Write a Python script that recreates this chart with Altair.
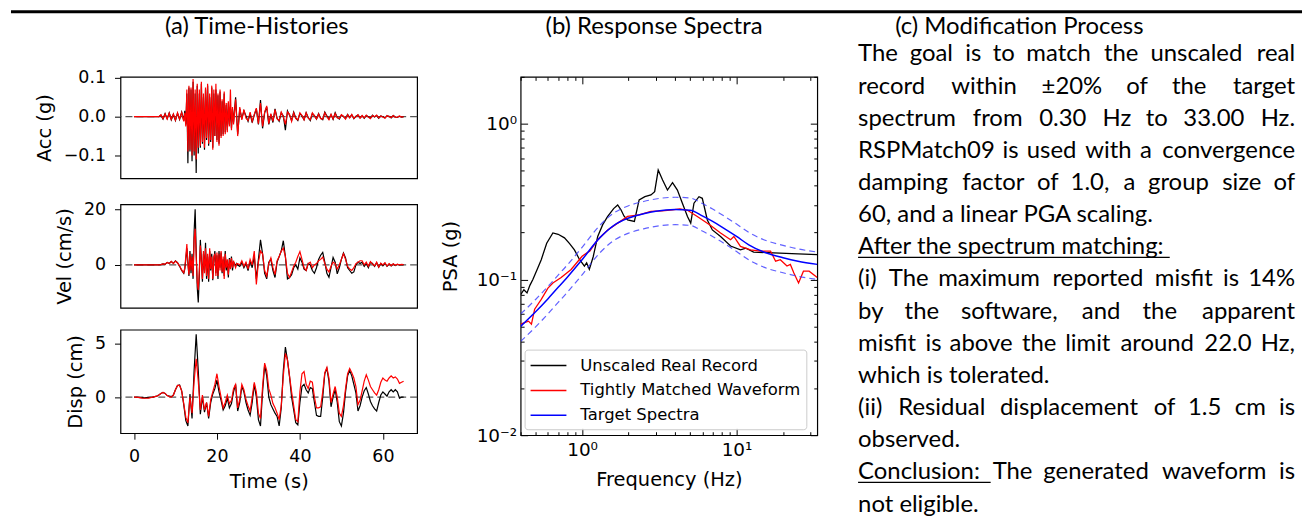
import altair as alt
import numpy as np
import pandas as pd

# ---------------- (a) Time-histories : sampling grids (s) ----------------
T_ACC = np.concatenate([np.arange(0, 12.001, 0.5), np.arange(12.25, 24.001, 0.25), np.arange(24.5, 65.001, 0.5)])
T_VEL = np.concatenate([np.arange(0, 12.001, 0.5), np.arange(12.25, 25.001, 0.25), np.arange(25.5, 65.001, 0.5)])
T_DISP = np.arange(0, 65.001, 0.5)

ACC_REAL = (
    [0] * 13 + [0.004, -0.006, 0.008, -0.005, 0.01, -0.008, 0.006, -0.01, 0.009, -0.007, 0.012, -0.01]
    + [0.015, -0.02, 0.06, -0.12, 0.075, -0.09, 0.07, -0.115, 0.09, -0.1, 0.06, -0.145,
       0.08, -0.095, 0.06, -0.08, 0.085, -0.07, 0.05, -0.085, 0.07, -0.06, 0.08, -0.075,
       0.05, -0.065, 0.075, -0.08, 0.06, -0.05, 0.07, -0.06, 0.055, -0.07, 0.065, -0.05,
       0.04, -0.045, 0.06, -0.04, 0.03, -0.035, 0.035, -0.02, 0.025, -0.03, 0.02, -0.015]
    + [0.05, -0.045, 0.02, -0.005, 0.015, 0.002, -0.012, 0.008, -0.015, 0.004, 0.02, -0.02,
       0.043, -0.03, 0.01, 0.025, -0.02, 0.005, -0.015, 0.02, -0.004, -0.012,
       0.01, 0.002, -0.035, 0.015, 0.004, -0.01, 0.012, -0.003, -0.01, 0.008,
       0.002, -0.008, 0.01, -0.002, -0.01, 0.008, 0.003, -0.006, 0.008, -0.004,
       -0.008, 0.012, 0.002, -0.006, 0.005, -0.007, 0.01, -0.002, -0.006, 0.004,
       0.0, -0.005, 0.006, -0.002, 0.005, -0.005, 0.001, 0.004, -0.003, 0.002,
       -0.004, 0.003, 0.0, -0.004, 0.004, -0.001, 0.003, -0.004, 0.002, 0.0,
       -0.003, 0.002, 0.001, -0.003, 0.003, -0.001, -0.002, 0.001, -0.001, 0.0]
)
ACC_MATCHED = (
    [0] * 13 + [0.005, -0.005, 0.007, -0.006, 0.009, -0.007, 0.007, -0.009, 0.01, -0.006, 0.011, -0.012]
    + [0.01, -0.025, 0.07, -0.09, 0.08, -0.085, 0.075, -0.1, 0.097, -0.09, 0.07, -0.11,
       0.085, -0.08, 0.07, -0.075, 0.09, -0.065, 0.06, -0.08, 0.075, -0.055, 0.085, -0.07,
       0.06, -0.06, 0.08, -0.085, 0.07, -0.05, 0.085, -0.065, 0.06, -0.075, 0.07, -0.055,
       0.045, -0.05, 0.065, -0.045, 0.035, -0.04, 0.04, -0.025, 0.07, -0.035, 0.025, -0.02]
    + [0.045, -0.05, 0.025, -0.008, 0.018, -0.004, -0.01, 0.012, -0.012, 0.006, 0.022, -0.018,
       0.035, -0.025, 0.012, 0.028, -0.018, 0.008, -0.012, 0.018, -0.006, -0.01,
       0.012, 0.0, -0.02, 0.012, 0.006, -0.012, 0.01, -0.005, -0.008, 0.01,
       0.003, -0.008, 0.01, -0.004, -0.008, 0.01, 0.002, -0.006, 0.007, -0.005,
       -0.006, 0.01, 0.0, -0.008, 0.006, -0.006, 0.008, -0.003, -0.005, 0.005,
       0.001, -0.006, 0.005, -0.003, 0.006, -0.004, 0.0, 0.005, -0.004, 0.003,
       -0.003, 0.004, -0.001, -0.005, 0.003, 0.0, 0.004, -0.003, 0.002, -0.001,
       -0.004, 0.003, 0.0, -0.002, 0.003, -0.002, -0.001, 0.002, -0.001, 0.0]
)

VEL_REAL = (
    [0] * 13 + [0.1, 0.4, 0.2, 0.9, 0.5, 1.2, 0.6, 1.5, 0.8, -0.5, -2.0, -3.0]
    + [-1.5, 2.0, 6.0, 1.0, -4.0, 5.0, -3.0, 4.0, -5.0, 12.0, 20.0, 5.0,
       -8.0, -13.5, -4.0, 9.0, 2.0, -6.0, 4.0, -2.0, 8.0, -5.0, 3.0, -6.0,
       5.0, -2.0, 4.0, -5.5, 2.0, 5.0, -3.0, 3.5, -5.0, 5.0, -1.0, 4.5,
       -3.0, 2.0, -4.0, 5.0, -2.0, 1.5, -4.5, 2.5, -1.0, 3.0, -2.0, 1.0,
       0.5, -0.5, 0.5, 0.0]
    + [-0.5, 1.0, -1.0, 0.5, -2.0, 1.5, -1.0, 3.0, -5.0, 2.0,
       9.0, 4.0, -3.0, -5.0, 1.0, 2.0, -2.0, -4.5, 1.0, 3.0,
       5.0, 8.7, 3.0, -5.0, -4.5, -3.5, -1.0, 0.0, -1.5, 2.5,
       1.0, -1.5, -2.0, 0.5, 0.0, -2.0, -3.0, -1.0, 2.0, 3.5,
       4.5, 1.0, -3.0, -4.4, -1.0, 2.7, 1.0, -3.2, -1.0, 2.0,
       4.3, 2.5, -1.0, -2.0, -3.0, -2.5, 0.0, 1.0, 0.5, 1.0,
       -0.5, 0.5, -1.0, 1.0, 0.5, -0.5, 0.8, -0.8, 0.5, -0.3,
       0.6, -0.5, 0.3, -0.4, 0.3, -0.2, 0.2, -0.1, 0.1, 0.0]
)
VEL_MATCHED = (
    [0] * 13 + [0.1, 0.4, 0.3, 0.9, 0.5, 1.3, 0.5, 1.4, 0.7, -0.3, -1.8, -2.8]
    + [-1.0, 3.0, 7.5, 0.5, -3.5, 4.0, -2.0, 3.0, -4.0, 9.0, 13.0, 3.0,
       -6.0, -9.0, -2.0, 7.0, 1.0, -5.0, 5.0, -3.0, 6.0, -4.0, 4.0, -5.0,
       6.0, -1.5, 3.0, -5.0, 3.0, 4.0, -4.0, 4.5, -4.0, 4.0, -2.0, 5.0,
       -2.5, 3.0, -5.0, 4.0, -1.0, 2.0, -3.5, 2.0, -1.5, 2.5, -1.0, 1.5,
       0.0, -1.0, 0.5, 0.5]
    + [0.0, 1.5, -0.5, 1.0, -1.5, 2.0, 0.0, 5.0, -7.0, 1.0,
       5.0, 4.0, -2.0, -4.0, 0.5, 2.5, -1.0, -3.5, 1.5, 3.0,
       5.0, 6.0, 3.0, -3.0, -4.5, -2.5, -0.5, 1.0, 3.0, 4.8,
       2.0, -1.0, -2.0, 0.5, 1.0, -1.0, 0.0, 0.5, 1.5, 2.0,
       2.8, 0.5, -1.5, -2.5, -0.5, 1.0, 0.5, -1.5, 0.0, 2.0,
       4.0, 2.0, -0.5, -1.5, -2.0, -1.0, 0.5, 1.0, 1.5, 1.5,
       0.0, 1.0, -0.5, 1.2, 0.3, -0.3, 1.0, -0.8, 0.6, 0.0,
       0.8, -0.4, 0.5, -0.3, 0.4, -0.1, 0.3, 0.0, 0.2, 0.1]
)

DISP_REAL = [
    0, 0, -0.02, -0.04, -0.05, -0.06, -0.05, -0.04, -0.02, 0,
    0.05, 0.1, 0.2, 0.35, 0.45, 0.35, 0.15, 0.1, 0.05, 0.2,
    0.7, 1.1, 1.15, 0.6, -0.7, -2.2, -2.7, 0.3, -2.0, 2.5,
    5.9, 2.5, -1.6, 0.0, -1.4, -0.5, -2.0, -0.5, 0.3, 0.8,
    1.6, 0.5, -0.3, -1.2, -0.8, -0.1, -1.0, -0.6, 0.5, 1.2,
    -1.3, -0.5, 1.0, 0.5, -0.5, -1.2, -1.7, -0.5, 1.2, 0.0,
    -2.1, -2.7, 0.5, 3.0, 2.0, 0.0, -0.7, -1.1, -1.5, -1.8,
    -2.7, -1.0, 2.5, 4.7, 3.5, 1.9, 0.0, -1.2, -2.4, -2.6,
    -0.5, 1.0, 1.2, 0.7, 0.4, 0.9, 0.8, -0.5, -1.7, -1.8,
    -1.8, 0.0, 2.2, 2.7, 1.5, -0.9, 0.0, 0.7, -0.5, -2.3,
    -2.7, -1.5, 0.5, 2.0, 2.5, 2.0, 1.2, 0.4, -1.3, -0.8,
    0.0, 0.6, 0.9, 0.3, -0.4, -0.8, -1.1, -1.3, -0.5, 0.2,
    0.5, 0.3, 0.1, 0.5, 0.7, 0.5, 0.7, 0.5, -0.1, 0.0,
    0.0,
]
DISP_MATCHED = [
    0, 0, -0.02, -0.05, -0.08, -0.1, -0.1, -0.08, -0.05, 0,
    0.05, 0.1, 0.2, 0.35, 0.45, 0.35, 0.15, 0.05, 0.0, 0.2,
    0.7, 1.1, 1.1, 0.6, -0.6, -1.9, -2.4, 0.0, -1.5, 1.5,
    3.6, 1.5, -1.2, 0.2, -1.2, -0.5, -1.8, -0.2, 0.5, 1.2,
    2.2, 1.0, 0.0, -1.0, -0.5, 0.2, -0.6, -0.3, 0.8, 1.2,
    -1.0, -0.2, 1.2, 0.7, -0.2, -0.8, -1.3, 0.0, 1.4, 0.5,
    -1.5, -2.0, 1.0, 3.2, 2.5, 0.8, 0.2, -0.6, -1.0, -1.5,
    -2.1, -0.8, 2.0, 4.1, 3.5, 2.0, 0.5, -0.8, -2.1, -2.3,
    0.5, 2.2, 2.4, 1.2, 0.8, 1.5, 1.4, 0.0, -1.0, -1.0,
    -0.9, 0.5, 2.3, 2.8, 1.8, -0.5, 0.3, 1.0, 0.0, -1.5,
    -1.8, -0.8, 0.8, 2.2, 2.7, 2.3, 1.8, 1.0, -0.7, -0.3,
    0.6, 1.5, 2.1, 1.6, 1.0, 0.7, 0.4, 0.2, 0.7, 1.4,
    1.8, 1.6, 1.5, 1.8, 2.0, 1.8, 1.9, 1.7, 1.3, 1.4,
    1.5,
]

# ---------------- (b) Response spectra ----------------
SERIES = ["Unscaled Real Record", "Tightly Matched Waveform", "Target Spectra"]

F_REAL = [0.4, 0.42, 0.44, 0.46, 0.48, 0.51, 0.544, 0.59, 0.647, 0.70, 0.769, 0.83, 0.892, 0.96, 1.035,
          1.07, 1.114, 1.18, 1.262, 1.36, 1.465, 1.60, 1.70, 1.785, 1.87, 1.97, 2.18, 2.34, 2.55, 2.79,
          2.95, 3.11, 3.32, 3.57, 3.85, 4.14, 4.46, 4.81, 5.05, 5.30, 5.71, 6.0, 6.47, 6.97, 7.88,
          9.15, 10.6, 11.5, 12.9, 17.4, 25, 33.3]
PSA_REAL = [0.080, 0.086, 0.082, 0.092, 0.100, 0.115, 0.134, 0.171, 0.199, 0.195, 0.185, 0.170, 0.155, 0.135, 0.122,
            0.128, 0.116, 0.140, 0.189, 0.225, 0.254, 0.285, 0.301, 0.28, 0.255, 0.241, 0.236, 0.324, 0.340, 0.349,
            0.366, 0.504, 0.435, 0.375, 0.418, 0.375, 0.309, 0.254, 0.230, 0.309, 0.340, 0.332, 0.241, 0.208, 0.189,
            0.164, 0.155, 0.159, 0.150, 0.148, 0.146, 0.1445]

F_MATCH = [0.4, 0.45, 0.47, 0.493, 0.544, 0.601, 0.647, 0.732, 0.849, 1.0, 1.07, 1.12, 1.262, 1.465, 1.70,
           1.97, 2.34, 2.79, 3.3, 3.85, 4.3, 4.81, 5.57, 6.8, 7.88, 9.15, 9.61, 10.6, 12.3, 14.3,
           16.6, 17.9, 19.2, 21.2, 22.3, 23.5, 25.2, 27.1, 29.5, 33.3]
PSA_MATCH = [0.0516, 0.054, 0.0516, 0.0644, 0.0746, 0.088, 0.095, 0.103, 0.116, 0.141, 0.148, 0.152, 0.180, 0.208, 0.230,
             0.254, 0.260, 0.274, 0.276, 0.280, 0.284, 0.278, 0.254, 0.222, 0.199, 0.180, 0.189, 0.163, 0.155, 0.152,
             0.152, 0.131, 0.134, 0.122, 0.125, 0.110, 0.095, 0.113, 0.113, 0.103]

F_TARGET = [0.4, 0.5, 0.6, 0.7, 0.8, 1.0, 1.3, 1.6, 2.0, 2.5, 3.0, 4.0, 5.0, 6.0, 7.0, 8.0, 10, 12, 15, 20, 25, 33.3]
PSA_TARGET = [0.050, 0.062, 0.075, 0.089, 0.103, 0.134, 0.185, 0.222, 0.248, 0.264, 0.274, 0.281, 0.278, 0.256,
              0.236, 0.218, 0.189, 0.167, 0.150, 0.138, 0.131, 0.125]
PSA_UPPER = [0.060, 0.0744, 0.090, 0.1068, 0.1236, 0.1608, 0.222, 0.2664, 0.2976, 0.3168, 0.3288, 0.3372, 0.3336,
             0.3072, 0.2832, 0.2616, 0.2268, 0.2004, 0.180, 0.1656, 0.1572, 0.150]
PSA_LOWER = [0.040, 0.0496, 0.060, 0.0712, 0.0824, 0.1072, 0.148, 0.1776, 0.1984, 0.2112, 0.2192, 0.2248, 0.2224,
             0.2048, 0.1888, 0.1744, 0.1512, 0.1336, 0.120, 0.1104, 0.1048, 0.100]

MAJOR_X = [1, 10]
MINOR_X = [0.4, 0.5, 0.6, 0.7, 0.8, 0.9, 2, 3, 4, 5, 6, 7, 8, 9, 20, 30]
MAJOR_Y = [0.01, 0.1, 1]
MINOR_Y = [0.02, 0.03, 0.04, 0.05, 0.06, 0.07, 0.08, 0.09, 0.2, 0.3, 0.4, 0.5, 0.6, 0.7, 0.8, 0.9, 2]

# ---------------- panel titles and (c) text ----------------
TITLES = ["(a) Time-Histories", "(b) Response Spectra", "(c) Modification Process"]
TEXT_LINES = [
    "The goal is to match the unscaled real",
    "record within \u00b120% of the target",
    "spectrum from 0.30 Hz to 33.00 Hz.",
    "RSPMatch09 is used with a convergence",
    "damping factor of 1.0, a group size of",
    "60, and a linear PGA scaling.",
    "After the spectrum matching:",
    "(i) The maximum reported misfit is 14%",
    "by the software, and the apparent",
    "misfit is above the limit around 22.0 Hz,",
    "which is tolerated.",
    "(ii) Residual displacement of 1.5 cm is",
    "observed.",
    "Conclusion: The generated waveform is",
    "not eligible.",
]
JUSTIFIED = [True, True, True, True, True, False, False, True, True, True, False, True, False, True, False]
UNDERLINES = [(6, 4, False), (13, 1, True)]   # (line, words underlined, extend over following space)

TXT_FONT = "Lato"
AX_FONT = "DejaVu Sans"
TITLE_TOP = -62          # top of the panel titles, px above each plot frame


def title_mark(text, xc):
    return alt.Chart(pd.DataFrame({"a": [0]})).mark_text(
        text=text, font=TXT_FONT, fontSize=24, align="center", baseline="top", color="black").encode(
        x=alt.value(xc), y=alt.value(TITLE_TOP))


# ================= panel (a) =================
XS_T = alt.Scale(domain=[-3.25, 68.25], nice=False, zero=False)


def th_panel(t, real, matched, dom, ticks, fmt, ytitle, height, xaxis, extra=None):
    df_r = pd.DataFrame({"t": t, "v": real})
    df_m = pd.DataFrame({"t": t, "v": matched})
    ys = alt.Scale(domain=dom, nice=False, zero=False)
    yax = alt.Axis(values=ticks, format=fmt, title=ytitle, tickSize=6, labelPadding=9,
                   titlePadding=9, domain=False, grid=False)
    zero = alt.Chart(pd.DataFrame({"v": [0.0]})).mark_rule(
        color="#555555", strokeDash=[7, 4], strokeWidth=1.2).encode(
        y=alt.Y("v:Q", scale=ys, axis=yax))
    real_l = alt.Chart(df_r).mark_line(color="black", strokeWidth=1.2).encode(
        x=alt.X("t:Q", scale=XS_T, axis=xaxis), y=alt.Y("v:Q", scale=ys, axis=yax))
    match_l = alt.Chart(df_m).mark_line(color="red", strokeWidth=1.2).encode(
        x=alt.X("t:Q", scale=XS_T, axis=xaxis), y=alt.Y("v:Q", scale=ys, axis=yax))
    layers = [zero, real_l, match_l] + ([extra] if extra is not None else [])
    return alt.layer(*layers).properties(width=298, height=height)


acc = th_panel(T_ACC, ACC_REAL, ACC_MATCHED, [-0.159, 0.1026], [-0.1, 0.0, 0.1], ".1f", "Acc (g)", 102,
               None, title_mark(TITLES[0], 137))
vel = th_panel(T_VEL, VEL_REAL, VEL_MATCHED, [-15.4, 21.8], [0, 20], "d", "Vel (cm/s)", 104, None)
x_time = alt.Axis(values=[0, 20, 40, 60], format="d", title="Time (s)", tickSize=6, labelPadding=8.5,
                  titlePadding=8, grid=False, domain=False)
disp = th_panel(T_DISP, DISP_REAL, DISP_MATCHED, [-3.38, 6.33], [0, 5], "d", "Disp (cm)", 104, x_time)
panel_a = alt.vconcat(acc, vel, disp, spacing=20)

# ================= panel (b) =================
XS_F = alt.Scale(type="log", domain=[0.4, 33.3], nice=False)
YS_P = alt.Scale(type="log", domain=[0.01, 2.0], nice=False)
COLOR = alt.Scale(domain=SERIES, range=["black", "red", "blue"])
LEG = alt.Legend(orient="none", legendX=4, legendY=274, title=None, direction="vertical",
                 symbolType="M-1.8,0L1.8,0", symbolSize=400, symbolStrokeWidth=1.5, symbolOffset=8,
                 labelOffset=21, labelFont=AX_FONT, labelFontSize=16.5, labelColor="black", labelLimit=400,
                 rowPadding=5, padding=5, fillColor="rgba(255,255,255,0.8)", strokeColor="#cccccc",
                 cornerRadius=3)


def tick_axis(orient, values, size):
    return alt.Axis(orient=orient, values=values, offset=-size, tickSize=size, labels=False,
                    domain=False, grid=False, title=None, tickColor="black", tickWidth=1)


X_MAIN = alt.Axis(orient="bottom", values=MAJOR_X, labelExpr="datum.value > 5 ? '10\u00b9' : '10\u2070'",
                  ticks=False, tickSize=0, domain=False, grid=False, labelPadding=5, labelFontSize=18.5,
                  title="Frequency (Hz)", titlePadding=12)
Y_MAIN = alt.Axis(orient="left", values=MAJOR_Y,
                  labelExpr="datum.value > 0.5 ? '10\u2070' : (datum.value > 0.05 ? '10\u207b\u00b9' : '10\u207b\u00b2')",
                  ticks=False, tickSize=0, domain=False, grid=False, labelPadding=4, labelFontSize=18.5,
                  title="PSA (g)", titlePadding=16)


def spec_df(f, p, name):
    return pd.DataFrame({"f": f, "psa": p, "series": name})


lay_real = alt.Chart(spec_df(F_REAL, PSA_REAL, SERIES[0])).mark_line(strokeWidth=1.3, clip=True).encode(
    x=alt.X("f:Q", scale=XS_F, axis=X_MAIN), y=alt.Y("psa:Q", scale=YS_P, axis=Y_MAIN),
    color=alt.Color("series:N", scale=COLOR, legend=LEG))
lay_match = alt.Chart(spec_df(F_MATCH, PSA_MATCH, SERIES[1])).mark_line(strokeWidth=1.3, clip=True).encode(
    x=alt.X("f:Q", scale=XS_F, axis=tick_axis("bottom", MAJOR_X, 7)),
    y=alt.Y("psa:Q", scale=YS_P, axis=tick_axis("left", MAJOR_Y, 7)),
    color=alt.Color("series:N", scale=COLOR, legend=LEG))
lay_up = alt.Chart(spec_df(F_TARGET, PSA_UPPER, "upper")).mark_line(
    strokeWidth=1.2, strokeDash=[6, 4], color="#3a3aff", opacity=0.8, clip=True, interpolate="monotone").encode(
    x=alt.X("f:Q", scale=XS_F, axis=tick_axis("top", MAJOR_X, 7)),
    y=alt.Y("psa:Q", scale=YS_P, axis=tick_axis("right", MAJOR_Y, 7)))
lay_lo = alt.Chart(spec_df(F_TARGET, PSA_LOWER, "lower")).mark_line(
    strokeWidth=1.2, strokeDash=[6, 4], color="#3a3aff", opacity=0.8, clip=True, interpolate="monotone").encode(
    x=alt.X("f:Q", scale=XS_F, axis=tick_axis("top", MINOR_X, 3.5)),
    y=alt.Y("psa:Q", scale=YS_P, axis=tick_axis("right", MINOR_Y, 3.5)))
lay_target = alt.Chart(spec_df(F_TARGET, PSA_TARGET, SERIES[2])).mark_line(
    strokeWidth=1.5, clip=True, interpolate="monotone").encode(
    x=alt.X("f:Q", scale=XS_F, axis=tick_axis("bottom", MINOR_X, 3.5)),
    y=alt.Y("psa:Q", scale=YS_P, axis=tick_axis("left", MINOR_Y, 3.5)),
    color=alt.Color("series:N", scale=COLOR, legend=LEG))

panel_b = alt.layer(lay_real, lay_match, lay_up, lay_lo, lay_target, title_mark(TITLES[1], 134)).resolve_axis(
    x="independent", y="independent").properties(width=298, height=360)

# ================= panel (c) =================
# approximate glyph advance widths (em, at the reference size) used to justify words
CAL_EM = {' ': 0.226, '%': 0.74, '(': 0.303, ')': 0.303, ',': 0.250, '-': 0.306, '.': 0.252, ':': 0.268,
          '\u00b1': 0.535, 'A': 0.62, 'C': 0.63, 'G': 0.68, 'H': 0.69, 'M': 0.83, 'P': 0.545, 'R': 0.565,
          'S': 0.49, 'T': 0.535, 'a': 0.479, 'b': 0.525, 'c': 0.423, 'd': 0.525, 'e': 0.498, 'f': 0.305,
          'g': 0.471, 'h': 0.525, 'i': 0.229, 'j': 0.239, 'k': 0.455, 'l': 0.229, 'm': 0.799, 'n': 0.525,
          'o': 0.527, 'p': 0.525, 'q': 0.525, 'r': 0.349, 's': 0.391, 't': 0.335, 'u': 0.525, 'v': 0.452,
          'w': 0.715, 'x': 0.433, 'y': 0.453, 'z': 0.395}
REF_PX = 26.0
C_W = 457
X0, X1 = 18.0, 457.0
LINE0, LINE_DY = -15.5, 32.3


def tw(s):
    return sum(CAL_EM.get(ch, 0.535) for ch in s) * REF_PX


words_l, words_r, unders = [], [], []
for i, line in enumerate(TEXT_LINES):
    yb = LINE0 + i * LINE_DY
    words = line.split(" ")
    ws = [tw(w) for w in words]
    starts = []
    if JUSTIFIED[i] and len(words) > 1:
        gap = (X1 - X0 - sum(ws)) / (len(words) - 1)
        x = X0
        for k, (w, wd) in enumerate(zip(words, ws)):
            starts.append(x)
            if k == len(words) - 1:
                words_r.append({"x": X1, "y": yb, "t": w})
            else:
                words_l.append({"x": x, "y": yb, "t": w})
            x += wd + gap
    else:
        words_l.append({"x": X0, "y": yb, "t": line})
        x = X0
        for w, wd in zip(words, ws):
            starts.append(x)
            x += wd + tw(" ")
    for (li, nw, ext) in UNDERLINES:
        if li == i:
            end = (starts[nw] - 2) if ext else (starts[nw - 1] + ws[nw - 1])
            unders.append({"x": X0, "x2": end, "y": yb + 3})

txt_l = alt.Chart(pd.DataFrame(words_l)).mark_text(
    font=TXT_FONT, fontSize=24, align="left", baseline="alphabetic", color="black").encode(
    x=alt.X("x:Q", scale=None, axis=None), y=alt.Y("y:Q", scale=None, axis=None), text="t:N")
txt_r = alt.Chart(pd.DataFrame(words_r)).mark_text(
    font=TXT_FONT, fontSize=24, align="right", baseline="alphabetic", color="black").encode(
    x=alt.X("x:Q", scale=None, axis=None), y=alt.Y("y:Q", scale=None, axis=None), text="t:N")
uline = alt.Chart(pd.DataFrame(unders)).mark_rule(color="black", strokeWidth=1.4).encode(
    x=alt.X("x:Q", scale=None, axis=None), x2="x2:Q", y=alt.Y("y:Q", scale=None, axis=None))
panel_c = alt.layer(txt_l, txt_r, uline, title_mark(TITLES[2], 180)).properties(
    width=C_W, height=360, view=alt.ViewBackground(stroke="transparent"))

# ================= assembly =================
spacer = alt.Chart(pd.DataFrame({"a": [0]})).mark_rule(opacity=0).encode(
    x=alt.value(0.5), x2=alt.value(0.6), y=alt.value(0.5)).properties(
    width=1, height=1, view=alt.ViewBackground(stroke="transparent"))
top_rule = alt.Chart(pd.DataFrame({"a": [0]})).mark_rule(color="black", strokeWidth=3).encode(
    x=alt.value(0), x2=alt.value(1297), y=alt.value(1.5)).properties(
    width=1297, height=3, view=alt.ViewBackground(stroke="transparent"))

row = alt.hconcat(spacer, panel_a, panel_b, panel_c, spacing=20).resolve_scale(
    color="independent").resolve_legend(color="independent")
chart = alt.vconcat(top_rule, row, spacing=0).resolve_scale(
    color="independent").resolve_legend(color="independent").properties(
    padding=0, background="white").configure_axis(
    labelFont=AX_FONT, titleFont=AX_FONT, labelFontSize=17.5, titleFontSize=19.5, labelColor="black",
    titleColor="black", titleFontWeight="normal", tickColor="black").configure_view(
    stroke="black", strokeWidth=1.2)

chart.save("out.html", embed_options={"renderer": "svg", "actions": False})
